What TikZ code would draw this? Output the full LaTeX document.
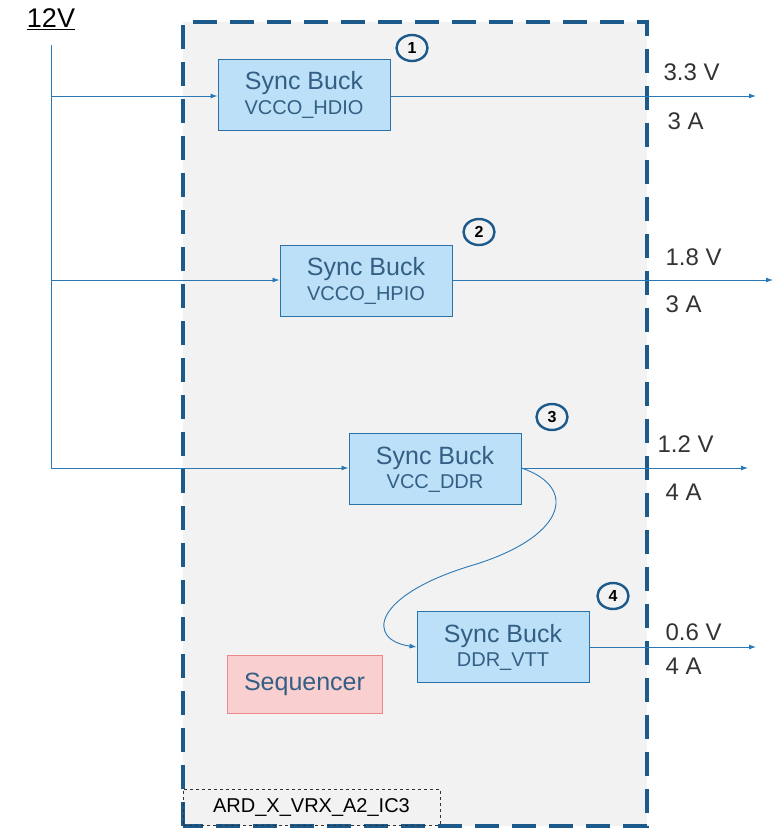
\documentclass[tikz,border=0pt]{standalone}
\usepackage{fontspec}
\setmainfont{Liberation Sans}
\usepackage{xcolor}
\usetikzlibrary{arrows.meta,positioning,shapes.geometric}

\definecolor{frameblue}{HTML}{1B5A8A}
\definecolor{buckfill}{HTML}{BCE0F7}
\definecolor{buckdraw}{HTML}{2B72A8}
\definecolor{bucktext}{HTML}{335F85}
\definecolor{wireblue}{HTML}{2A78B5}
\definecolor{seqfill}{HTML}{F9CFCF}
\definecolor{seqdraw}{HTML}{EC8A8A}
\definecolor{areagray}{HTML}{F2F2F2}

\begin{document}
\begin{tikzpicture}[
  x=1pt, y=-1pt,
  >={Latex[length=7pt,width=5pt]},
  buck/.style={draw=buckdraw, fill=buckfill, line width=1pt, minimum width=172pt,
    minimum height=71pt, align=center, text=bucktext, inner sep=0pt},
  tag/.style={ellipse, draw=frameblue, line width=2.4pt, minimum width=31pt,
    minimum height=26pt, inner sep=0pt, font=\fontsize{16}{16}\selectfont\bfseries},
  rail/.style={font=\fontsize{24}{24}\selectfont, text=black!80, anchor=west},
  wire/.style={draw=wireblue, line width=0.9pt}
]
\useasboundingbox (0,0) rectangle (774,833);
% module outline
\fill[areagray] (183,22) rectangle (647,826);
\draw[frameblue, line width=4pt, dash pattern=on 24pt off 13pt] (183,826) -- (183,22) -- (647,22) -- (647,826) -- cycle;
\node[draw=black!80, dashed, line width=0.8pt, minimum width=257pt, minimum height=36pt,
  inner sep=0pt, font=\fontsize{20}{20}\selectfont] (part) at (311.5,807) {ARD\_X\_VRX\_A2\_IC3};

% input rail
\node[font=\fontsize{27}{27}\selectfont, inner sep=1pt] (vin) at (51,19) {\underline{12V}};
\coordinate (top) at (51,45);
\coordinate (tap1) at (51,96);
\coordinate (tap2) at (51,280);
\coordinate (tap3) at (51,468);

% regulators
\node[buck] (b1) at (304,95) {{\fontsize{25}{27}\selectfont Sync Buck}\\[4pt]{\fontsize{20}{22}\selectfont VCCO\_HDIO}};
\node[buck] (b2) at (366,281) {{\fontsize{25}{27}\selectfont Sync Buck}\\[4pt]{\fontsize{20}{22}\selectfont VCCO\_HPIO}};
\node[buck] (b3) at (435,469) {{\fontsize{25}{27}\selectfont Sync Buck}\\[4pt]{\fontsize{20}{22}\selectfont VCC\_DDR}};
\node[buck] (b4) at (503,647) {{\fontsize{25}{27}\selectfont Sync Buck}\\[4pt]{\fontsize{20}{22}\selectfont DDR\_VTT}};
\node[draw=seqdraw, fill=seqfill, line width=1pt, minimum width=155pt, minimum height=58pt,
  text=bucktext, font=\fontsize{25}{27}\selectfont] (seq) at (304.5,684) {Sequencer};

\node[tag] (t1) at (412,48) {1};
\node[tag] (t2) at (479,232) {2};
\node[tag] (t3) at (552,417) {3};
\node[tag] (t4) at (613,596) {4};

% outputs
\coordinate (o1) at (756,96);
\coordinate (o2) at (773,280);
\coordinate (o3) at (748,468);
\coordinate (o4) at (756,647);

\draw[wire] (top) -- (tap3);
\draw[wire, ->] (tap1) -- (b1.west |- tap1);
\draw[wire, ->] (tap2) -- (b2.west |- tap2);
\draw[wire, ->] (tap3) -- (b3.west |- tap3);
\draw[wire, ->] (b1.east |- o1) -- (o1);
\draw[wire, ->] (b2.east |- o2) -- (o2);
\draw[wire, ->] (b3.east |- o3) -- (o3);
\draw[wire, ->] (b4.east |- o4) -- (o4);
\draw[wire, ->] (b3.east |- o3) .. controls (580,488) and (565,538) .. (470,566)
  .. controls (372,596) and (366,640) .. (b4.west);

\node[rail] (v1) at (660,72) {3.3 V};
\node[rail] (a1) at (664,121) {3 A};
\node[rail] (v2) at (662,257) {1.8 V};
\node[rail] (a2) at (662,304) {3 A};
\node[rail] (v3) at (654,444) {1.2 V};
\node[rail] (a3) at (662,492) {4 A};
\node[rail] (v4) at (662,632) {0.6 V};
\node[rail] (a4) at (662,666) {4 A};
\end{tikzpicture}
\end{document}
